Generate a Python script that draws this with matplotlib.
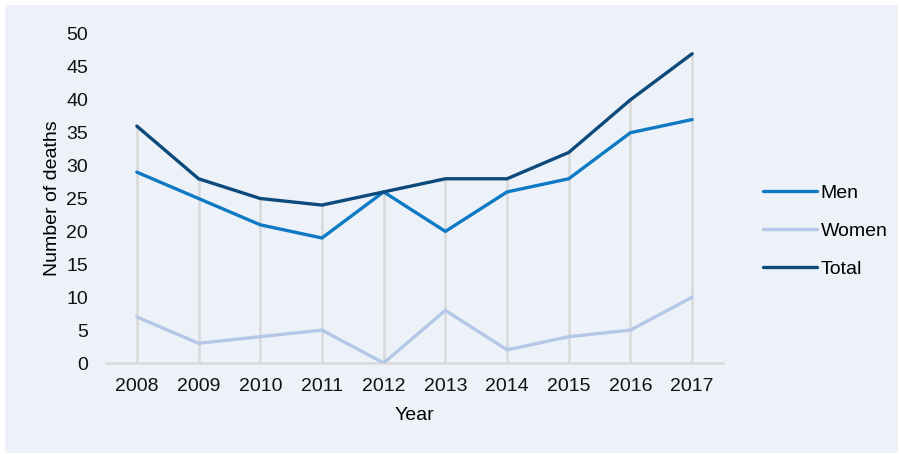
import numpy as np
import matplotlib.pyplot as plt
from matplotlib.patches import Rectangle

plt.rcParams['font.family'] = ['Liberation Sans', 'DejaVu Sans']

years = ['2008', '2009', '2010', '2011', '2012', '2013', '2014', '2015', '2016', '2017']
men = [29, 25, 21, 19, 26, 20, 26, 28, 35, 37]
women = [7, 3, 4, 5, 0, 8, 2, 4, 5, 10]
total = [36, 28, 25, 24, 26, 28, 28, 32, 40, 47]

bg = '#EDF2F9'
W, H = 899, 454
fig = plt.figure(figsize=(W / 100, H / 100), dpi=100, facecolor='white')
fig.add_artist(Rectangle((5 / W, 1 / H), 893 / W, 448 / H, transform=fig.transFigure,
                         facecolor=bg, edgecolor='none', zorder=-10))

ax = fig.add_axes([106 / W, 1 - 363 / H, 617 / W, 329 / H])
ax.set_zorder(1)
ax.set_facecolor('none')
x = np.arange(len(years))

# drop lines from the top series to the axis
ax.vlines(x, 0, total, color='#D9D9D9', lw=1.8, zorder=1)

ax.plot(x, men, color='#0F7AC4', lw=2.4, label='Men', solid_capstyle='round', zorder=3)
ax.plot(x, women, color='#B4C7E7', lw=2.4, label='Women', solid_capstyle='round', zorder=3)
ax.plot(x, total, color='#0C4A7C', lw=2.4, label='Total', solid_capstyle='round', zorder=3)

ax.set_xlim(-0.5, len(years) - 0.5)
ax.set_ylim(0, 50)
ax.set_yticks(range(0, 51, 5))
ax.set_xticks(x)
ax.set_xticklabels(years)
ax.tick_params(axis='both', length=0, labelsize=14, colors='#111111')
ax.tick_params(axis='y', pad=13)
ax.tick_params(axis='x', pad=10.5)

for s in ['top', 'right', 'left']:
    ax.spines[s].set_visible(False)
ax.spines['bottom'].set_color('#D9D9D9')
ax.spines['bottom'].set_linewidth(1.8)

ax.set_xlabel('Year', fontsize=14, labelpad=9)
ax.set_ylabel('Number of deaths', fontsize=14, labelpad=4)

leg = ax.legend(loc='center left', bbox_to_anchor=(745 / W, 1 - 231 / H),
                bbox_transform=fig.transFigure, frameon=False, fontsize=14,
                handlelength=2.8, handletextpad=0.2, labelspacing=1.05)

fig.savefig('out.png', dpi=100, facecolor='white')
